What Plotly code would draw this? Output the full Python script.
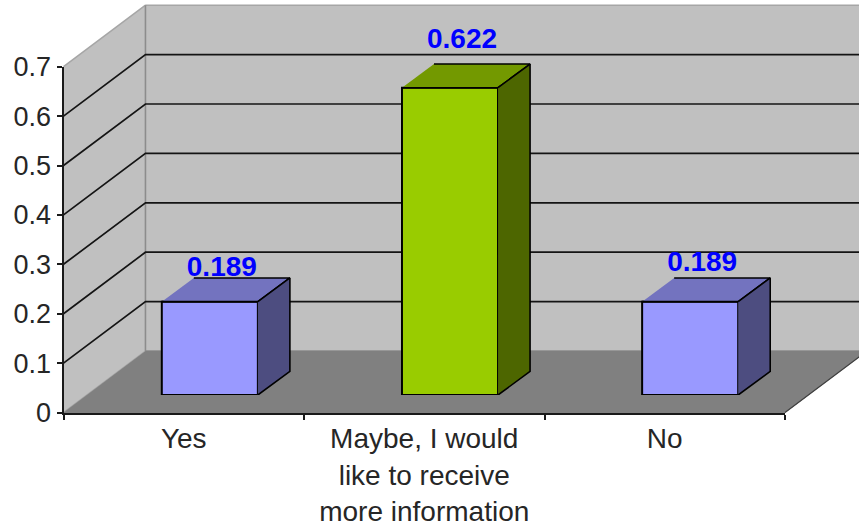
import plotly.graph_objects as go

categories = ["Yes", "Maybe, I would<br>like to receive<br>more information", "No"]
values = [0.189, 0.622, 0.189]
value_labels = ["0.189", "0.622", "0.189"]
gridlines = [0.1, 0.2, 0.3, 0.4, 0.5, 0.6, 0.7]
front_colors = ["#9999FF", "#99CC00", "#9999FF"]
top_colors = ["#7373BF", "#739900", "#7373BF"]
side_colors = ["#4D4D80", "#4D6600", "#4D4D80"]
label_lift_px = [33, 47, 38]

W, H = 859, 531
X0, X1 = 63.5, 785.0      # front plane, pixels
Y0 = 412.5                # value 0, pixels
PXV = 494.0               # pixels per unit value
PXC = (X1 - X0) / 3       # pixels per category
BX0 = 89.75               # bar plane left edge
BY0 = 395.0               # bar plane baseline
DX, DY = 82 / PXC, 61.5 / PXV            # chart depth
BDX, BDY = 32 / 240.0, 23.7 / PXV        # bar depth
BAR_W = 0.4
FONT = "Liberation Sans, Arial, sans-serif"
TXT = "#262626"
vmax = 0.7
bar_ymax = 0.79
xr = [-X0 / PXC, (W - X0) / PXC]
yr = [(Y0 - H) / PXV, Y0 / PXV]


def poly(xs, ys, fill, line=None, lw=1, xa="x", ya="y", mode="lines"):
    return go.Scatter(x=xs, y=ys, xaxis=xa, yaxis=ya, mode=mode, fill="toself", fillcolor=fill,
                      line=dict(color=line or fill, width=lw), hoverinfo="skip", showlegend=False)


def seg(xs, ys, color, w=1.7):
    return go.Scatter(x=xs, y=ys, mode="lines", line=dict(color=color, width=w),
                      hoverinfo="skip", showlegend=False)


fig = go.Figure()
# walls and floor
fig.add_trace(poly([0, DX, DX, 0], [0, DY, vmax + DY, vmax], "#C0C0C0", "#A6A6A6", 1.5))
fig.add_trace(poly([DX, xr[1] + 1, xr[1] + 1, DX], [DY, DY, vmax + DY, vmax + DY], "#C0C0C0", "#A6A6A6", 1.5))
fig.add_trace(poly([0, 3, 3 + DX, DX], [0, 0, DY, DY], "#808080"))
fig.add_trace(seg([DX, DX], [DY, vmax + DY], "#8C8C8C", 1.5))
for g in gridlines[:-1]:
    fig.add_trace(seg([0, DX, xr[1] + 1], [g, g + DY, g + DY], "#141414"))
fig.add_trace(seg([3, 3 + DX], [0, DY], "#404040", 1.3))

# bars
fig.add_trace(go.Bar(x=[0, 1, 2], y=values, width=BAR_W, marker=dict(color=front_colors, line=dict(color="#000000", width=2)),
                     xaxis="x2", yaxis="y2", hoverinfo="skip", showlegend=False))
fig.add_trace(go.Scatter(x=[i + 12 / 240 for i in range(3)],
                         y=[v + s / PXV for v, s in zip(values, label_lift_px)],
                         text=value_labels, mode="text", textposition="middle center",
                         textfont=dict(family=FONT, size=28, color="#0000FF", weight="bold"),
                         xaxis="x2", yaxis="y2", hoverinfo="skip", showlegend=False, cliponaxis=False))
for i, v in enumerate(values):
    l, r = i - BAR_W / 2, i + BAR_W / 2
    fig.add_trace(poly([l, r, r + BDX, l + BDX], [v, v, v + BDY, v + BDY], top_colors[i], "#000000", 1.6, "x2", "y2"))
    fig.add_trace(poly([r, r + BDX, r + BDX, r], [0, BDY, v + BDY, v], side_colors[i], "#000000", 1.6, "x2", "y2"))

# axes carrying the ticks
fig.add_trace(go.Scatter(x=categories, y=values, mode="markers", marker=dict(opacity=0), xaxis="x3", yaxis="y3",
                         hoverinfo="skip", showlegend=False))

hidden = dict(visible=False, fixedrange=True, automargin=False)
fig.update_layout(
    width=W, height=H, margin=dict(l=0, r=0, t=0, b=0, pad=0, autoexpand=False),
    paper_bgcolor="white", plot_bgcolor="rgba(0,0,0,0)", showlegend=False,
    xaxis=dict(hidden, range=xr, domain=[0, 1], anchor="y"),
    yaxis=dict(hidden, range=yr, domain=[0, 1], anchor="x"),
    xaxis2=dict(hidden, range=[-0.5, 2.5], domain=[BX0 / W, (BX0 + 720.5) / W], anchor="y2"),
    yaxis2=dict(hidden, range=[0, bar_ymax], domain=[(H - BY0) / H, (H - BY0 + bar_ymax * PXV) / H], anchor="x2"),
    xaxis3=dict(type="category", categoryorder="array", categoryarray=categories, tickson="boundaries",
                domain=[X0 / W, X1 / W], anchor="y3", range=[-0.5, 2.5], showgrid=False, zeroline=False,
                showline=True, linecolor="#1A1A1A", linewidth=2, ticks="outside", ticklen=5, tickwidth=1.5,
                tickcolor="#1A1A1A", tickfont=dict(family=FONT, size=28, color=TXT), tickangle=0, fixedrange=True,
                automargin=False),
    yaxis3=dict(domain=[(H - Y0) / H, (H - Y0 + vmax * PXV) / H], anchor="x3", range=[0, vmax], dtick=0.1,
                showgrid=False, zeroline=False, showline=True, linecolor="#1A1A1A", linewidth=2,
                ticks="outside", ticklen=5, tickwidth=1.5, tickcolor="#1A1A1A",
                tickfont=dict(family=FONT, size=27, color=TXT), fixedrange=True, automargin=False),
)
fig.write_html("out.html", config=dict(displayModeBar=False),
               post_script="document.body.style.margin='0';document.documentElement.style.overflow='hidden';")
